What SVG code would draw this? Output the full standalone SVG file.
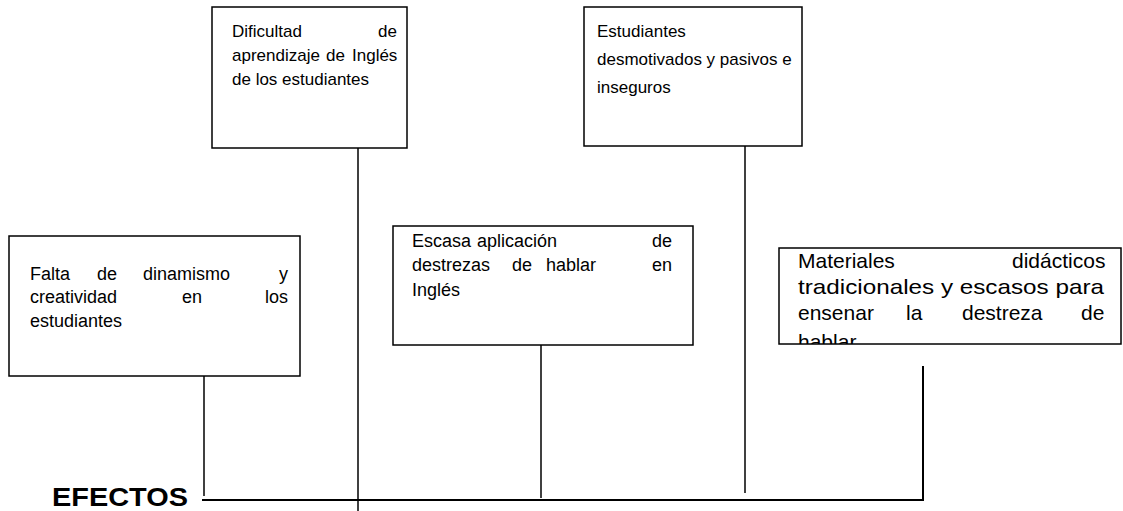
<svg xmlns="http://www.w3.org/2000/svg" width="1123" height="511" viewBox="0 0 1123 511">
<style>
.box{fill:#fff;stroke:#000;stroke-width:1.5}
.t{font-family:"Liberation Sans",Arial,sans-serif;font-size:18px;fill:#000}
.s{font-size:17px}
.l{font-size:21px}
.c{stroke:#000;stroke-width:1.5;fill:none}
.h{font-family:"Liberation Sans",Arial,sans-serif;font-size:26px;font-weight:bold;fill:#000}
</style>
<defs><clipPath id="clip5"><rect x="779" y="248" width="342" height="96"/></clipPath></defs>
<rect width="1123" height="511" fill="#fff"/>
<g id="connectors">
<line class="c" x1="204" y1="376" x2="204" y2="496"/>
<line class="c" x1="358" y1="148" x2="358" y2="511"/>
<line class="c" x1="745" y1="146" x2="745" y2="493"/>
<line class="c" x1="541" y1="345" x2="541" y2="498"/>
<polyline class="c" points="923,366 923,500 202,500" style="stroke-width:2"/>
</g>
<g id="n1"><rect class="box" x="9" y="236" width="291" height="140"/>
<text class="t" y="280"><tspan x="30">Falta</tspan><tspan x="97">de</tspan><tspan x="143">dinamismo</tspan><tspan x="279">y</tspan></text>
<text class="t" y="303"><tspan x="30">creatividad</tspan><tspan x="182">en</tspan><tspan x="265">los</tspan></text>
<text class="t" x="30" y="327">estudiantes</text></g>
<g id="n2"><rect class="box" x="212" y="7" width="195" height="141"/>
<text class="t s" y="37"><tspan x="232">Dificultad</tspan><tspan x="378">de</tspan></text>
<text class="t s" y="61"><tspan x="232">aprendizaje</tspan><tspan x="326">de</tspan><tspan x="352">Inglés</tspan></text>
<text class="t s" x="232" y="85">de los estudiantes</text></g>
<g id="n3"><rect class="box" x="584" y="7" width="218" height="139"/>
<text class="t s" x="597" y="37">Estudiantes</text>
<text class="t s" x="597" y="65">desmotivados y pasivos e</text>
<text class="t s" x="597" y="93">inseguros</text></g>
<g id="n4"><rect class="box" x="393" y="226" width="300" height="119"/>
<text class="t" y="247"><tspan x="412">Escasa</tspan><tspan x="477">aplicación</tspan><tspan x="652">de</tspan></text>
<text class="t" y="271"><tspan x="412">destrezas</tspan><tspan x="512">de</tspan><tspan x="546">hablar</tspan><tspan x="652">en</tspan></text>
<text class="t" x="412" y="296">Inglés</text></g>
<g id="n5"><rect class="box" x="779" y="248" width="342" height="96"/>
<g clip-path="url(#clip5)">
<text class="t l" y="268"><tspan x="798">Materiales</tspan><tspan x="1012">didácticos</tspan></text>
<text class="t l" x="798" y="294" textLength="306" lengthAdjust="spacingAndGlyphs">tradicionales y escasos para</text>
<text class="t l" y="320"><tspan x="798">ensenar</tspan><tspan x="906">la</tspan><tspan x="962">destreza</tspan><tspan x="1081">de</tspan></text>
<text class="t l" x="798" y="349">hablar</text>
</g></g>
<text class="h" x="52" y="506" textLength="136" lengthAdjust="spacingAndGlyphs">EFECTOS</text>
</svg>
